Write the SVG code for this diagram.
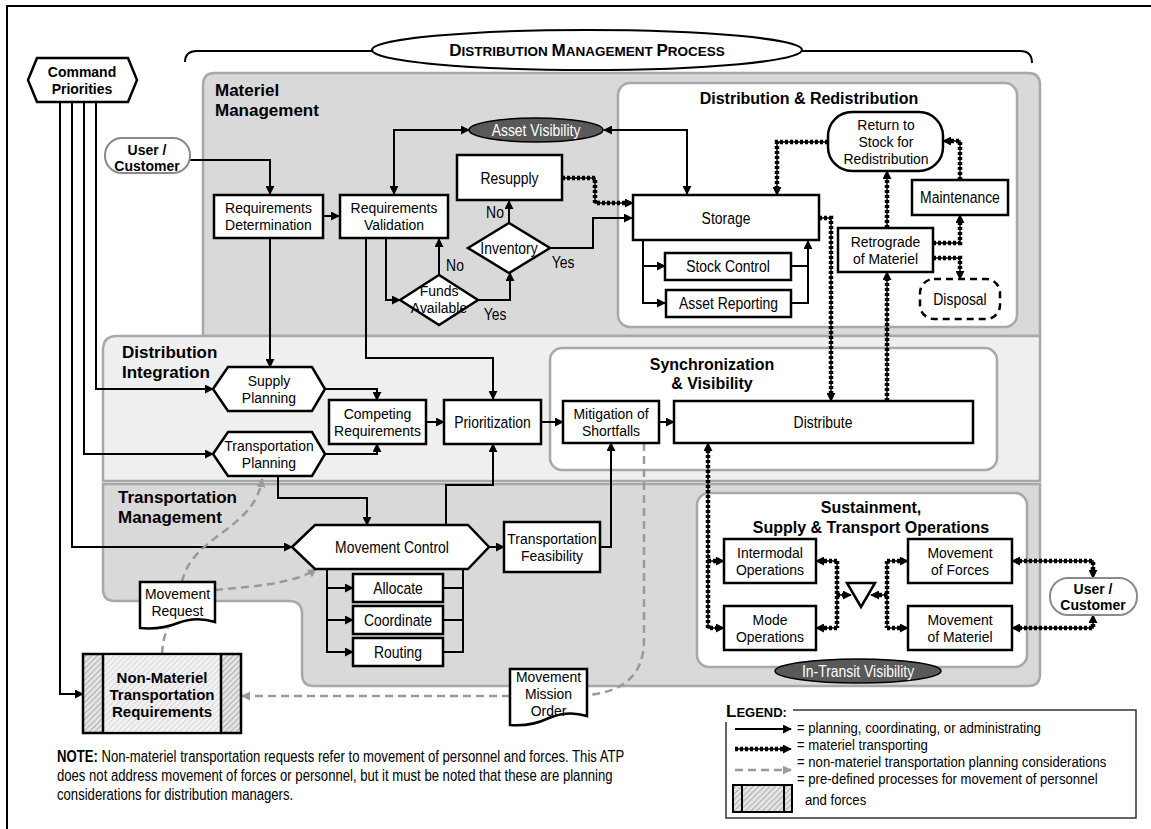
<svg xmlns="http://www.w3.org/2000/svg" width="1151" height="829" viewBox="0 0 1151 829">
<defs>
<style>
.bx{fill:#fff;stroke:#000;stroke-width:2.5}
.t{font-family:"Liberation Sans",Arial,sans-serif;font-size:15px;text-anchor:middle;fill:#000;transform-box:fill-box;transform-origin:50% 50%;transform:scaleX(.93)}
.t1{font-family:"Liberation Sans",Arial,sans-serif;font-size:17px;text-anchor:middle;fill:#000;transform-box:fill-box;transform-origin:50% 50%;transform:scaleX(.82)}
.tl{font-family:"Liberation Sans",Arial,sans-serif;font-size:16px;fill:#000;transform-box:fill-box;transform-origin:0% 50%;transform:scaleX(.82)}
.lg{font-family:"Liberation Sans",Arial,sans-serif;font-size:15px;fill:#000;transform-box:fill-box;transform-origin:0% 50%;transform:scaleX(.875)}
.tb{font-family:"Liberation Sans",Arial,sans-serif;font-weight:bold;text-anchor:middle;fill:#000}
.hd{font-family:"Liberation Sans",Arial,sans-serif;font-weight:bold;font-size:17px;fill:#000}
.sh{font-family:"Liberation Sans",Arial,sans-serif;font-weight:bold;font-size:16px;fill:#000;text-anchor:middle}
.wt{font-family:"Liberation Sans",Arial,sans-serif;font-size:17px;fill:#fff;text-anchor:middle;transform-box:fill-box;transform-origin:50% 50%;transform:scaleX(.82)}
.c{fill:none;stroke:#000;stroke-width:2}
.ce{marker-end:url(#ah)}
.cs{marker-start:url(#ah)}
.m1{fill:none;stroke:#000;stroke-width:1.5}
.m2{fill:none;stroke:#000;stroke-width:4.5;stroke-dasharray:3 2}
.g{fill:none;stroke:#9a9a9a;stroke-width:2.5;stroke-dasharray:8 5}
.ge{marker-end:url(#ahg)}
.pill{fill:#fff;stroke:#8a8a8a;stroke-width:2}
.ell{fill:#595959;stroke:#000;stroke-width:1.5}
.panel{stroke:#a8a8a8;stroke-width:2.5}
</style>
<marker id="ah" viewBox="0 0 10 10" refX="9" refY="5" markerWidth="9" markerHeight="9" markerUnits="userSpaceOnUse" orient="auto-start-reverse"><path d="M0,0 L10,5 L0,10 z" fill="#000"/></marker>
<marker id="ahg" viewBox="0 0 10 10" refX="9" refY="5" markerWidth="9" markerHeight="9" markerUnits="userSpaceOnUse" orient="auto-start-reverse"><path d="M0,0 L10,5 L0,10 z" fill="#9a9a9a"/></marker>
<pattern id="hatch" width="4" height="4" patternUnits="userSpaceOnUse" patternTransform="rotate(45)"><rect width="4" height="4" fill="#e4e4e4"/><line x1="0" y1="0" x2="0" y2="4" stroke="#8c8c8c" stroke-width="1.2"/></pattern>
</defs>

<rect x="7" y="6" width="1160" height="830" fill="#fff" stroke="#000" stroke-width="2"/>

<!-- background panels -->
<g id="panels">
<path class="panel" fill="#d9d9d9" d="M203,336 V85 Q203,73 215,73 H1028 Q1040,73 1040,85 V336 Z"/>
<path class="panel" fill="#efefef" d="M103,481 V350 Q103,336 117,336 H1040 V481 Z"/>
<path class="panel" fill="#d9d9d9" d="M103,484 H1040 V674 Q1040,686 1028,686 H314 Q302,686 302,674 V614 Q302,601 289,601 H115 Q103,601 103,589 Z"/>
<rect class="panel" x="618" y="83" width="399" height="244" rx="12" fill="#fff"/>
<rect class="panel" x="550" y="348" width="447" height="122" rx="12" fill="#fff"/>
<rect class="panel" x="697" y="493" width="330" height="174" rx="12" fill="#fff"/>
<text class="hd" x="215" y="96">Materiel</text>
<text class="hd" x="215" y="116">Management</text>
<text class="hd" x="122" y="358">Distribution</text>
<text class="hd" x="122" y="378">Integration</text>
<text class="hd" x="118" y="503">Transportation</text>
<text class="hd" x="118" y="523">Management</text>
<text class="sh" x="809" y="104">Distribution &amp; Redistribution</text>
<text class="sh" x="712" y="370">Synchronization</text>
<text class="sh" x="712" y="389">&amp; Visibility</text>
<text class="sh" x="871" y="513">Sustainment,</text>
<text class="sh" x="871" y="533">Supply &amp; Transport Operations</text>
</g>

<!-- title -->
<g id="title">
<path fill="none" stroke="#000" stroke-width="2" d="M185,62 Q185,51 197,51 H373 M802,51 H1020 Q1032,51 1032,63"/>
<ellipse cx="587" cy="50" rx="215" ry="20" fill="#fff" stroke="#000" stroke-width="2"/>
<text class="tb" x="587" y="56" font-size="17"><tspan>D</tspan><tspan font-size="13.5">ISTRIBUTION </tspan><tspan>M</tspan><tspan font-size="13.5">ANAGEMENT </tspan><tspan>P</tspan><tspan font-size="13.5">ROCESS</tspan></text>
</g>

<!-- connectors -->
<g id="connectors">
<path class="c ce" d="M190,160 H270 V194"/>
<path class="c ce" d="M323,216 H339"/>
<path class="c ce cs" d="M394,194 V130 H469"/>
<path class="c ce cs" d="M604,130 H687 V194"/>
<path class="c ce" d="M386,238 V300 H400"/>
<path class="c ce" d="M366,238 V358 H493 V399"/>
<path class="c ce" d="M439,275 V239"/>
<path class="c ce" d="M478,300 H510 V273"/>
<path class="c ce" d="M509,223 V201"/>
<path class="c ce" d="M550,248 H593 V218 H632"/>
<path class="c ce" d="M643,240 V303 H665"/>
<path class="c ce" d="M643,266 H665"/>
<path class="c" d="M791,266 H808"/>
<path class="c ce" d="M791,303 H808 V241"/>
<path class="c ce" d="M270,238 V367"/>
<path class="c ce" d="M96,102 V389 H213"/>
<path class="c ce" d="M84,102 V454 H213"/>
<path class="c ce" d="M72,102 V547 H292"/>
<path class="c ce" d="M60,102 V694 H83"/>
<path class="c ce" d="M325,389 H377 V400"/>
<path class="c ce" d="M325,454 H377 V444"/>
<path class="c ce" d="M426,422 H444"/>
<path class="c ce" d="M541,422 H563"/>
<path class="c ce" d="M659,422 H674"/>
<path class="c ce" d="M278,476 V498 H367 V525"/>
<path class="c ce" d="M446,525 V485 H493 V444"/>
<path class="c ce" d="M489,547 H504"/>
<path class="c ce" d="M600,547 H611 V443"/>
<path class="c ce" d="M327,569 V652 H353"/>
<path class="c ce" d="M327,588 H353"/>
<path class="c ce" d="M327,620 H353"/>
<path class="c" d="M443,588 H463 M443,620 H463 M443,652 H463 V569"/>

<!-- materiel transporting -->
<path class="m1 ce" d="M562,178 H595 V203 H633"/><path class="m2" d="M562,178 H595 V203 H626"/>
<path class="m1 ce" d="M828,142 H777 V195"/><path class="m2" d="M828,142 H777 V188"/>
<path class="m1 ce" d="M960,180 V141 H943"/><path class="m2" d="M960,180 V141 H950"/>
<path class="m1 ce" d="M933,243 H960 V215"/><path class="m2" d="M933,243 H960 V222"/>
<path class="m1 ce" d="M933,258 H960 V279"/><path class="m2" d="M933,258 H960 V272"/>
<path class="m1 ce" d="M887,228 V171"/><path class="m2" d="M887,228 V178"/>
<path class="m1 ce" d="M819,218 H831 V401"/><path class="m2" d="M819,218 H831 V394"/>
<path class="m1 ce" d="M887,401 V272"/><path class="m2" d="M887,401 V279"/>
<path class="m1 ce cs" d="M708,443 V628 H724"/><path class="m2" d="M708,450 V628 H717"/>
<path class="m1 ce" d="M708,561 H724"/><path class="m2" d="M708,561 H717"/>
<path class="m1" d="M837,561 V628"/><path class="m2" d="M837,561 V628"/>
<path class="m1 ce" d="M837,561 H816"/><path class="m2" d="M837,561 H823"/>
<path class="m1 ce" d="M837,628 H816"/><path class="m2" d="M837,628 H823"/>
<path class="m1 ce" d="M837,595 H851"/><path class="m2" d="M837,595 H844"/>
<path class="m1" d="M887,561 V628"/><path class="m2" d="M887,561 V628"/>
<path class="m1 ce" d="M887,561 H908"/><path class="m2" d="M887,561 H901"/>
<path class="m1 ce" d="M887,628 H908"/><path class="m2" d="M887,628 H901"/>
<path class="m1 ce" d="M887,595 H871"/><path class="m2" d="M887,595 H878"/>
<path class="m1 ce cs" d="M1012,561 H1093 V578"/><path class="m2" d="M1019,561 H1093 V571"/>
<path class="m1 ce cs" d="M1012,628 H1093 V615"/><path class="m2" d="M1019,628 H1093 V622"/>

<!-- non-materiel planning -->
<path class="g ge" d="M182,582 C192,535 255,530 262,479"/>
<path class="g ge" d="M215,590 C262,586 298,582 316,569"/>
<path class="g" d="M162,654 C163,640 165,634 168,628"/>
<path class="g ge" d="M510,696 H242"/>
<path class="g" d="M644,443 V640 Q644,690 588,695"/>
</g>

<!-- nodes -->
<g id="command-priorities">
<polygon class="bx" points="28,80 37,58 128,58 137,80 128,102 37,102"/>
<text class="tb" font-size="14" x="82" y="77">Command</text>
<text class="tb" font-size="14" x="82" y="94">Priorities</text>
</g>
<g id="user-customer-1">
<rect class="pill" x="105" y="138" width="85" height="35" rx="17"/>
<text class="tb" font-size="14" x="147" y="155">User /</text>
<text class="tb" font-size="14" x="147" y="171">Customer</text>
</g>
<g id="req-determination">
<rect class="bx" x="214" y="195" width="109" height="43"/>
<text class="t" x="268.5" y="213">Requirements</text>
<text class="t" x="268.5" y="230">Determination</text>
</g>
<g id="req-validation">
<rect class="bx" x="340" y="195" width="108" height="43"/>
<text class="t" x="394" y="213">Requirements</text>
<text class="t" x="394" y="230">Validation</text>
</g>
<g id="asset-visibility">
<ellipse class="ell" cx="536" cy="130" rx="67" ry="12"/>
<text class="wt" x="536" y="136">Asset Visibility</text>
</g>
<g id="resupply">
<rect class="bx" x="457" y="155" width="105" height="45"/>
<text class="t1" x="509.5" y="184">Resupply</text>
</g>
<g id="inventory">
<polygon class="bx" points="468,248 509,223 550,248 509,273"/>
<text class="t1" x="509" y="254">Inventory</text>
<text class="t1" x="495" y="218">No</text>
<text class="t1" x="563" y="268">Yes</text>
</g>
<g id="funds-available">
<polygon class="bx" points="400,300 439,275 478,300 439,325"/>
<text class="t" x="439" y="296">Funds</text>
<text class="t" x="439" y="313">Available</text>
<text class="t1" x="455" y="271">No</text>
<text class="t1" x="495" y="320">Yes</text>
</g>
<g id="storage">
<rect class="bx" x="633" y="195" width="186" height="45"/>
<text class="t1" x="726" y="224">Storage</text>
</g>
<g id="stock-control">
<rect class="bx" x="665" y="253" width="126" height="27"/>
<text class="t1" x="728" y="272">Stock Control</text>
</g>
<g id="asset-reporting">
<rect class="bx" x="666" y="290" width="125" height="27"/>
<text class="t1" x="728.5" y="309">Asset Reporting</text>
</g>
<g id="return-to-stock">
<rect class="bx" x="828" y="112" width="115" height="59" rx="24"/>
<text class="t" x="886" y="130">Return to</text>
<text class="t" x="886" y="147">Stock for</text>
<text class="t" x="886" y="164">Redistribution</text>
</g>
<g id="maintenance">
<rect class="bx" x="912" y="180" width="96" height="35"/>
<text class="t1" x="960" y="203">Maintenance</text>
</g>
<g id="retrograde">
<rect class="bx" x="838" y="228" width="95" height="44"/>
<text class="t" x="885.5" y="247">Retrograde</text>
<text class="t" x="885.5" y="264">of Materiel</text>
</g>
<g id="disposal">
<rect x="920" y="279" width="80" height="40" rx="14" fill="#fff" stroke="#000" stroke-width="2.5" stroke-dasharray="7 5"/>
<text class="t1" x="960" y="305">Disposal</text>
</g>
<g id="supply-planning">
<polygon class="bx" points="213,389 228,367 312,367 325,389 312,411 228,411"/>
<text class="t" x="269" y="386">Supply</text>
<text class="t" x="269" y="403">Planning</text>
</g>
<g id="transportation-planning">
<polygon class="bx" points="213,454 228,432 312,432 325,454 312,476 228,476"/>
<text class="t" x="269" y="451">Transportation</text>
<text class="t" x="269" y="468">Planning</text>
</g>
<g id="competing-requirements">
<rect class="bx" x="329" y="400" width="97" height="44"/>
<text class="t" x="377.5" y="419">Competing</text>
<text class="t" x="377.5" y="436">Requirements</text>
</g>
<g id="prioritization">
<rect class="bx" x="444" y="400" width="97" height="44"/>
<text class="t1" x="492.5" y="428">Prioritization</text>
</g>
<g id="mitigation">
<rect class="bx" x="563" y="401" width="96" height="42"/>
<text class="t" x="611" y="419">Mitigation of</text>
<text class="t" x="611" y="436">Shortfalls</text>
</g>
<g id="distribute">
<rect class="bx" x="674" y="401" width="299" height="42"/>
<text class="t1" x="823" y="428">Distribute</text>
</g>
<g id="movement-control">
<polygon class="bx" points="292,547 315,525 468,525 489,547 468,569 315,569"/>
<text class="t1" x="392" y="553">Movement Control</text>
</g>
<g id="transportation-feasibility">
<rect class="bx" x="504" y="522" width="96" height="50"/>
<text class="t" x="552" y="544">Transportation</text>
<text class="t" x="552" y="561">Feasibility</text>
</g>
<g id="allocate">
<rect class="bx" x="353" y="574" width="90" height="28"/>
<text class="t1" x="398" y="594">Allocate</text>
</g>
<g id="coordinate">
<rect class="bx" x="353" y="606" width="90" height="28"/>
<text class="t1" x="398" y="626">Coordinate</text>
</g>
<g id="routing">
<rect class="bx" x="353" y="638" width="90" height="28"/>
<text class="t1" x="398" y="658">Routing</text>
</g>
<g id="movement-request">
<path class="bx" d="M140,582 H215 V622 Q196,616 178,623 Q160,630 140,628 Z"/>
<text class="t" x="177.5" y="599">Movement</text>
<text class="t" x="177.5" y="616">Request</text>
</g>
<g id="non-materiel">
<rect x="83" y="654" width="158" height="79" fill="url(#hatch)" stroke="#000" stroke-width="2.5"/>
<rect x="104" y="655" width="116" height="77" fill="#fff" fill-opacity="0.5"/>
<line x1="103" y1="654" x2="103" y2="733" stroke="#000" stroke-width="2.5"/>
<line x1="221" y1="654" x2="221" y2="733" stroke="#000" stroke-width="2.5"/>
<text class="tb" font-size="15" x="162" y="683">Non-Materiel</text>
<text class="tb" font-size="15" x="162" y="700">Transportation</text>
<text class="tb" font-size="15" x="162" y="717">Requirements</text>
</g>
<g id="movement-mission-order">
<path class="bx" d="M510,669 H587 V716 Q568,710 549,718 Q530,727 510,725 Z"/>
<text class="t" x="548.5" y="682">Movement</text>
<text class="t" x="548.5" y="699">Mission</text>
<text class="t" x="548.5" y="716">Order</text>
</g>
<g id="intermodal-operations">
<rect class="bx" x="724" y="539" width="92" height="44"/>
<text class="t" x="770" y="558">Intermodal</text>
<text class="t" x="770" y="575">Operations</text>
</g>
<g id="mode-operations">
<rect class="bx" x="724" y="606" width="92" height="44"/>
<text class="t" x="770" y="625">Mode</text>
<text class="t" x="770" y="642">Operations</text>
</g>
<g id="merge">
<polygon class="bx" points="847,583 875,583 861,607"/>
</g>
<g id="movement-of-forces">
<rect class="bx" x="908" y="539" width="104" height="44"/>
<text class="t" x="960" y="558">Movement</text>
<text class="t" x="960" y="575">of Forces</text>
</g>
<g id="movement-of-materiel">
<rect class="bx" x="908" y="606" width="104" height="44"/>
<text class="t" x="960" y="625">Movement</text>
<text class="t" x="960" y="642">of Materiel</text>
</g>
<g id="user-customer-2">
<rect class="pill" x="1050" y="578" width="87" height="37" rx="18"/>
<text class="tb" font-size="14" x="1093" y="594">User /</text>
<text class="tb" font-size="14" x="1093" y="610">Customer</text>
</g>
<g id="in-transit-visibility">
<ellipse class="ell" cx="858" cy="671" rx="83" ry="12"/>
<text class="wt" x="858" y="677">In-Transit Visibility</text>
</g>

<!-- note -->
<g id="note">
<text class="tl" x="57" y="762"><tspan font-weight="bold">NOTE:</tspan> Non-materiel transportation requests refer to movement of personnel and forces. This ATP</text>
<text class="tl" x="57" y="781">does not address movement of forces or personnel, but it must be noted that these are planning</text>
<text class="tl" x="57" y="800">considerations for distribution managers.</text>
</g>

<!-- legend -->
<g id="legend">
<path fill="none" stroke="#333" stroke-width="1.5" d="M793,710 H1136 V818 H726 V722"/>
<text x="726" y="717" font-family="Liberation Sans, Arial, sans-serif" font-weight="bold" font-size="17">L<tspan font-size="13">EGEND:</tspan></text>
<path class="c ce" d="M735,729 H791"/>
<path class="m1 ce" d="M735,749 H791"/><path class="m2" d="M735,749 H784"/>
<path class="g ge" d="M735,770 H791"/>
<rect x="733" y="785" width="59" height="27" fill="url(#hatch)" stroke="#000" stroke-width="2"/>
<line x1="742" y1="785" x2="742" y2="812" stroke="#000" stroke-width="2"/>
<line x1="784" y1="785" x2="784" y2="812" stroke="#000" stroke-width="2"/>
<text class="lg" x="797" y="733">= planning, coordinating, or administrating</text>
<text class="lg" x="797" y="750">= materiel transporting</text>
<text class="lg" x="797" y="767">= non-materiel transportation planning considerations</text>
<text class="lg" x="797" y="784">= pre-defined processes for movement of personnel</text>
<text class="lg" x="805" y="805">and forces</text>
</g>
</svg>
